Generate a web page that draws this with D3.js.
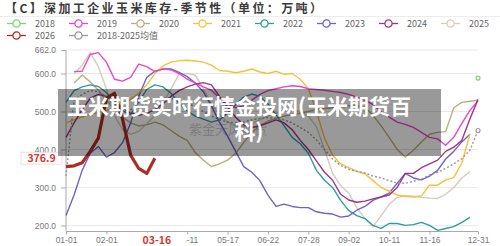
<!DOCTYPE html>
<meta charset="utf-8">
<style>
body { margin: 0; background: #fff; }
svg { font-family: "Noto Sans CJK SC", "Noto Sans", sans-serif; }
.grid line { stroke: #e8e8e8; }
.axis text { fill: #777; font-size: 8.5px; }
.axis path, .axis line { stroke: #aaa; }
.legend text { fill: #666; font-size: 9px; }
</style>
<svg width="500" height="246"></svg>
<script src="https://d3js.org/d3.v7.min.js"></script>
<script>

// week index 0..51, labelled ticks (the one under the pointer label is hidden)
var tickAt = [0, 5, 10, 15, 20, 25, 30, 35, 40, 45, 51];
var tickLabels = ["01-01", "02-01", "", "04-11", "05-17", "06-22", "07-28", "09-02", "10-11", "11-16", "12-31"];
var yTicks = [200, 300, 400, 500, 600, 662];
var pointerDate = "03-16";

var years = ["2018", "2019", "2020", "2021", "2022", "2023", "2024", "2025", "2026", "2018-2025均值"];

var s2018 = [null,null,null,null,null,null,null,null,null,null,null,null,null,null,null,null,null,null,null,null,null,null,null,null,null,null,null,null,null,null,null,null,null,null,null,null,null,null,null,null,null,null,null,null,null,null,null,null,null,null,null,588];
var s2019 = [null,605,606,650,655,630,585,580,590,625,618,605,612,610,600,585,575,565,556,535,520,510,515,530,545,555,560,565,568,566,560,558,556,553,550,545,538,530,518,500,485,472,466,458,445,432,428,411,432,469,503,528];
var s2020 = [null,575,596,578,556,530,505,485,470,462,465,472,465,450,435,424,392,372,355,362,372,390,418,445,462,475,482,488,492,496,500,505,508,510,512,515,515,511,490,462,432,400,380,398,420,440,445,447,510,524,527,530];
var s2021 = [470,478,486,492,498,503,508,518,532,548,570,600,620,630,634,635,633,630,622,608,606,602,606,612,604,600,606,598,600,585,560,500,430,385,362,352,342,336,318,300,290,280,277,275,278,306,306,320,326,365,440,null];
var s2022 = [524,555,565,570,566,550,522,502,492,525,558,570,565,548,522,502,488,480,472,478,496,518,538,546,540,520,492,462,432,415,390,345,319,300,266,239,226,218,200,192,205,205,200,202,208,200,187,192,197,208,221,null];
var s2023 = [226,280,345,390,408,380,392,418,470,540,590,606,612,612,603,592,575,552,515,472,435,395,355,340,318,280,250,256,250,247,247,236,232,230,222,225,240,250,266,275,285,311,337,325,320,330,345,375,395,420,440,null];
var s2024 = [432,470,505,535,545,540,525,510,495,490,495,505,520,540,555,565,572,576,570,540,512,485,465,458,462,470,478,470,452,424,400,370,340,319,282,267,261,264,270,275,280,300,337,337,352,362,372,395,406,424,480,532];
var s2025 = [null,600,622,655,618,560,490,452,440,448,468,490,520,560,598,600,596,560,520,492,472,462,460,468,478,488,496,502,504,500,488,460,400,337,305,285,247,218,197,225,255,274,278,277,274,272,271,282,300,325,342,null];
var s2026 = [355,357,365,395,430,535,548,480,385,350,337,376.9];
var sAvg = [330,530,545,555,552,540,525,512,505,510,520,530,535,535,530,522,512,500,488,478,472,470,472,478,482,484,482,478,470,458,445,425,400,375,358,348,343,338,330,325,318,312,311,316,322,333,340,350,362,376,398,450];

var series = [s2018, s2019, s2020, s2021, s2022, s2023, s2024, s2025, s2026, sAvg];
var colors = ["#7fd36b", "#ee44cc", "#bcae7e", "#f5c23a", "#2f9ea0", "#6f62c9", "#a23585", "#d6ccba", "#ad2d25", "#999999"];

var svg = d3.select("svg");

var x = d3.scaleLinear().domain([0, 51]).range([66, 478]);
var y = d3.scaleLinear().domain([184, 662]).range([231.5, 50]);

// title
svg.append("text")
    .attr("x", 5).attr("y", 13)
    .attr("textLength", 317).attr("lengthAdjust", "spacing")
    .attr("font-size", "12px").attr("font-weight", "bold")
    .attr("fill", "#3a3a3a")
    .text("【C】深加工企业玉米库存-季节性（单位：万吨）");

svg.append("line")
    .attr("x1", 0).attr("x2", 500).attr("y1", 16.5).attr("y2", 16.5)
    .attr("stroke", "#ececec");

// legend
var lg = svg.append("g").attr("class", "legend");
years.forEach(function(name, i) {
    var row = i < 8 ? 0 : 1;
    var col = i < 8 ? i : i - 8;
    var gx = 7 + col * 62, gy = row == 0 ? 23.5 : 35.5;
    var it = lg.append("g").attr("transform", "translate(" + gx + "," + gy + ")");
    it.append("line").attr("x1", 0).attr("x2", 19)
        .attr("stroke", colors[i]).attr("stroke-width", 1.3);
    it.append("circle").attr("cx", 9.5).attr("r", 3.6)
        .attr("fill", "#fff").attr("stroke", colors[i]).attr("stroke-width", 1.3);
    it.append("text").attr("x", 28).attr("dy", "0.35em").text(name);
});

// grid
svg.append("g").attr("class", "grid")
    .selectAll("line").data(yTicks).enter().append("line")
    .attr("x1", 66).attr("x2", 478)
    .attr("y1", function(d) { return y(d); })
    .attr("y2", function(d) { return y(d); });

// axes
svg.append("g").attr("class", "axis")
    .attr("transform", "translate(66,0)")
    .call(d3.axisLeft(y).tickValues(yTicks).tickSize(5).tickPadding(5)
        .tickFormat(d3.format(".1f")))
    .select(".domain").attr("d", "M0," + y(662) + "V231.5");

var xa = svg.append("g").attr("class", "axis")
    .attr("transform", "translate(0,231.5)")
    .call(d3.axisBottom(x).tickValues(tickAt).tickSize(3).tickPadding(2)
        .tickFormat(function(d, i) { return tickLabels[i]; }));
xa.select(".domain").attr("stroke", "#ccc").attr("d", "M66,0H478");

// faint background watermark
svg.append("text")
    .attr("x", 228).attr("y", 134).attr("text-anchor", "middle")
    .attr("font-size", "13px").attr("fill", "#777").attr("opacity", 0.35)
    .text("紫金天风期货");

// lines
var line = d3.line()
    .defined(function(d) { return d != null; })
    .x(function(d, i) { return x(i); })
    .y(function(d) { return y(d); });

var order = [2, 7, 4, 5, 3, 1, 6, 9, 0, 8];
order.forEach(function(k) {
    var p = svg.append("path")
        .datum(series[k])
        .attr("fill", "none")
        .attr("stroke", colors[k])
        .attr("stroke-width", k == 8 ? 3.2 : 1.4)
        .attr("stroke-linejoin", "round")
        .attr("d", line);
    if (k == 9) p.attr("stroke-dasharray", "2,2");
});

// isolated end points get a symbol
[0, 9].forEach(function(k) {
    var last = series[k].length - 1;
    svg.append("circle")
        .attr("cx", x(last)).attr("cy", y(series[k][last])).attr("r", 2)
        .attr("fill", "#fff").attr("stroke", colors[k]).attr("stroke-width", 1.2);
});

// pointer labels
var lastIdx = s2026.length - 1;
svg.append("rect")
    .attr("x", x(lastIdx) - 31).attr("y", 233).attr("width", 62).attr("height", 13)
    .attr("fill", "#fff");
svg.append("text")
    .attr("x", x(lastIdx) + 2).attr("y", 243.5).attr("text-anchor", "middle")
    .attr("font-size", "10.5px").attr("font-weight", "bold").attr("fill", "#d23a30")
    .text(pointerDate);

var yv = s2026[lastIdx];
svg.append("rect")
    .attr("x", 21).attr("y", y(yv) - 6).attr("width", 41).attr("height", 12)
    .attr("fill", "#fff").attr("stroke", "#f0d6d4").attr("stroke-width", 0.8);
svg.append("text")
    .attr("x", 41.5).attr("y", y(yv)).attr("dy", "0.35em").attr("text-anchor", "middle")
    .attr("font-size", "10.5px").attr("font-weight", "bold").attr("fill", "#d23a30")
    .text(d3.format(".1f")(yv));

// overlay caption box
svg.append("rect")
    .attr("x", 58).attr("y", 89).attr("width", 383).attr("height", 67)
    .attr("fill", "#000").attr("opacity", 0.4);
svg.append("text")
    .attr("x", 239).attr("y", 114).attr("text-anchor", "middle")
    .attr("font-size", "21px").attr("font-weight", "bold").attr("fill", "#fff")
    .text("玉米期货实时行情金投网(玉米期货百");
svg.append("text")
    .attr("x", 249).attr("y", 139).attr("text-anchor", "middle")
    .attr("font-size", "21px").attr("font-weight", "bold").attr("fill", "#fff")
    .text("科)");

</script>
